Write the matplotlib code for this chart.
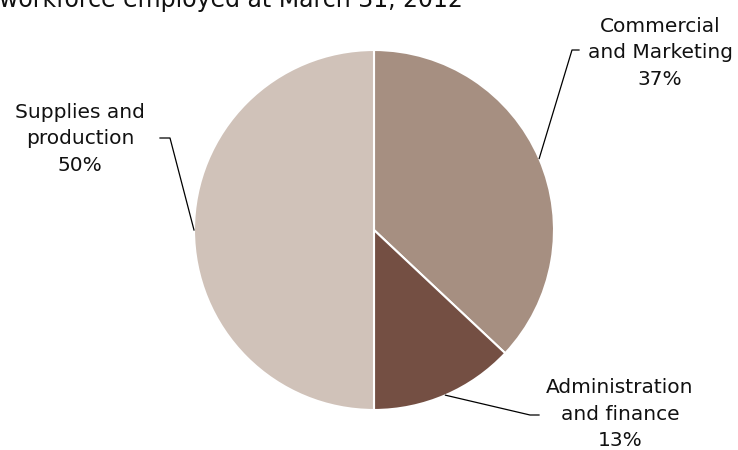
import numpy as np
import matplotlib.pyplot as plt

# workforce breakdown (%)
groups = ["Commercial\nand Marketing", "Administration\nand finance", "Supplies and\nproduction"]
shares = [37, 13, 50]
colors = ["#A68F81", "#744F43", "#D0C2B9"]

title = "workforce employed at March 31, 2012"

W, H = 738, 450
cx, cy, R = 374, 230, 180  # pie centre and radius in pixels


def px(x, y):
    # pixel position -> data units (pie radius = 1)
    return (x - cx) / R, (cy - y) / R


fig = plt.figure(figsize=(W / 100, H / 100), dpi=100)
ax = fig.add_axes([0, 0, 1, 1])

wedges, _ = ax.pie(shares, colors=colors, startangle=90, counterclock=False,
                   radius=1, wedgeprops=dict(edgecolor="white", linewidth=1.5))

# pie() resets the limits, so set them afterwards
ax.set_xlim(-cx / R, (W - cx) / R)
ax.set_ylim(-(H - cy) / R, cy / R)
ax.set_aspect("equal")
ax.axis("off")

# label text position and leader elbow / end (pixels)
layout = [
    dict(text=(660, 53), elbow=(572, 50), end=(579, 50)),
    dict(text=(620, 414), elbow=(530, 415), end=(539, 415)),
    dict(text=(80, 139), elbow=(170, 138), end=(160, 138)),
]

for w, name, val, lay in zip(wedges, groups, shares, layout):
    mid = np.deg2rad((w.theta1 + w.theta2) / 2)
    x0, y0 = np.cos(mid), np.sin(mid)
    ex, ey = px(*lay["elbow"])
    tx, ty = px(*lay["end"])
    ax.plot([x0, ex, tx], [y0, ey, ty], color="black", lw=0.9)
    lx, ly = px(*lay["text"])
    ax.text(lx, ly, f"{name}\n{val}%", ha="center", va="center",
            fontsize=14.5, linespacing=1.5, color="#111111")

# title sits partly above the top edge
tx, ty = px(-1, 7)
ax.text(tx, ty, title, ha="left", va="baseline", fontsize=17, color="#111111")

fig.savefig("out.png", dpi=100)
